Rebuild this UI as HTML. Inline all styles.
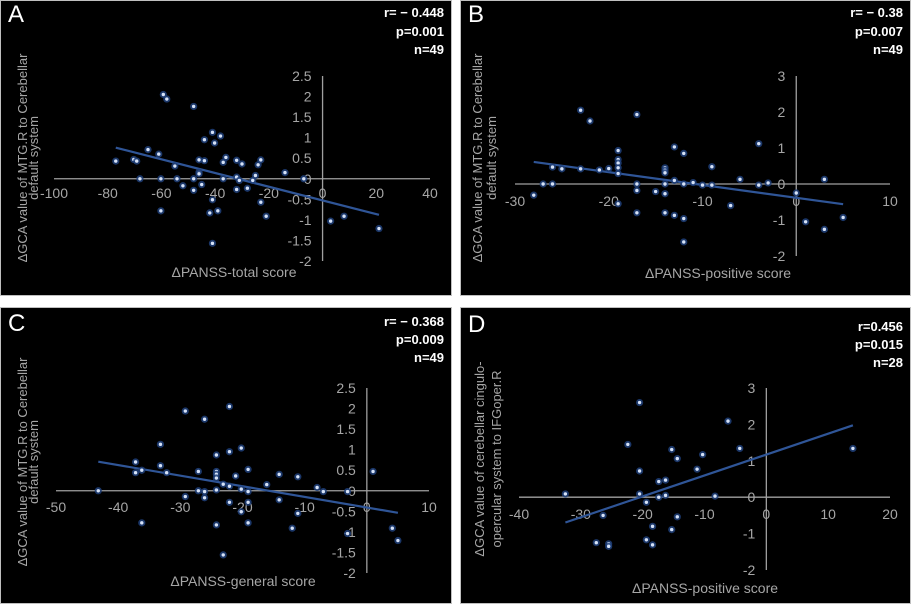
<!DOCTYPE html>
<html><head><meta charset="utf-8">
<style>
html,body{margin:0;padding:0;background:#fff;}
svg{display:block;font-family:"Liberation Sans",sans-serif;}
.tick{fill:#a6a6a6;font-size:14px;}
.ttl{fill:#a6a6a6;font-size:14px;}
.yttl{fill:#a6a6a6;font-size:13px;}
.stat{fill:#fff;font-size:13px;font-weight:bold;}
.let{fill:#fff;font-size:24px;}
</style></head>
<body>
<svg id="fig" width="911" height="604" viewBox="0 0 911 604"></svg>
<script>
// Panel A data: ΔPANSS-total vs ΔGCA
const aX = [-77,-59.3,-58,-48,-65,-61,-70.3,-69.2,-68,-60.2,-60.2,-55,-54.2,-52,-48,-48,-46,-46,-46,-45,-44,-44,-41,-40.2,-38,-41,-42,-39,-41,-36,-37,-37,-32,-30,-32,-31,-32,-28,-26,-25,-24,-23,-23,-21,-14,-7,3,8,21];
const aY = [0.43,2.05,1.94,1.76,0.71,0.6,0.47,0.43,0,0,-0.78,0.31,0,-0.17,0,-0.28,0.46,0.16,0.12,-0.14,0.95,0.44,1.13,0.87,1.04,-0.51,-0.83,-0.78,-1.57,0.52,0.4,0,0.45,0.36,0.04,-0.04,-0.26,-0.23,-0.04,0.08,0.34,0.46,-0.57,-0.91,0.15,0,-1.03,-0.91,-1.21];
// Panel B data: ΔPANSS-positive vs ΔGCA
const bX = [-28,-27,-26,-26,-25,-23,-23,-22,-21,-20,-19,-19,-19,-19,-19,-19,-17,-17,-17,-17,-15,-14,-14,-14,-14,-14,-14,-13,-13,-13,-12,-12,-12,-12,-11,-10,-9,-9,-7,-6,-4,-4,-3,0,1,3,3,5];
const bY = [-0.31,0,0,0.47,0.42,2.05,0.42,1.75,0.39,0.43,0.93,0.68,0.58,0.45,0.29,-0.55,1.93,0,-0.18,-0.8,-0.21,0.45,0.38,0.31,0,-0.27,-0.8,1.03,0.1,-0.87,0.85,0,-0.96,-1.61,0.04,-0.03,0.48,-0.03,-0.6,0.13,1.12,-0.03,0.03,-0.25,-1.05,0.13,-1.26,-0.93];
// Panel C data: ΔPANSS-general vs ΔGCA
const cX = [-43.2,-37.2,-37.2,-36.2,-36.2,-33.2,-33.2,-32.2,-29.2,-29.2,-27.1,-27.1,-26.1,-26.1,-26.1,-24.2,-24.2,-24.2,-24.2,-24.2,-24.2,-23.1,-23.1,-22.1,-22.1,-22.1,-22.1,-21.1,-20.2,-20.2,-20.2,-19.1,-19.1,-19.1,-19.1,-16.1,-14.1,-14.1,-12,-11.1,-11.1,-8,-7,-3.1,-3.1,1,4.1,5];
const cY = [0,0.7,0.44,0.5,-0.78,1.13,0.61,0.44,1.94,-0.14,0.47,0,1.74,-0.02,-0.17,0.87,0.47,0.4,0.31,0.02,-0.83,0.16,-1.56,2.05,0.95,0.11,-0.28,0.36,1.04,0.04,-0.51,0.52,-0.02,-0.28,-0.78,0.15,0.4,-0.22,-0.91,0.34,-0.55,0.08,-0.02,-0.02,-1.04,0.47,-0.91,-1.21];
// Panel D data: ΔPANSS-positive vs ΔGCA (cingulo-opercular)
const dX = [-32.5,-27.5,-26.4,-25.5,-25.5,-22.4,-20.5,-20.5,-20.5,-19.4,-19.4,-18.4,-18.4,-17.4,-17.4,-16.3,-16.3,-15.3,-15.3,-14.4,-14.4,-11.2,-10.3,-8.3,-6.2,-4.3,14];
const dY = [0.09,-1.25,-0.5,-1.28,-1.35,1.45,2.6,0.72,0.09,-0.14,-1.17,-0.8,-1.31,0.43,0,0.47,0.05,1.31,-0.89,1.06,-0.54,0.77,1.17,0.03,2.09,1.34,1.34];
// tick labels
const xTicksA = [-100,-80,-60,-40,-20,0,20,40];
const yTicksA = [2.5,2,1.5,1,0.5,0,-0.5,-1,-1.5,-2];
const xTicksB = [-30,-20,-10,0,10];
const yTicksB = [3,2,1,0,-1,-2];
const xTicksC = [-50,-40,-30,-20,-10,0,10];
const yTicksC = [2.5,2,1.5,1,0.5,0,-0.5,-1,-1.5,-2];
const xTicksD = [-40,-30,-20,-10,0,10,20];
const yTicksD = [3,2,1,0,-1,-2];
const statsA = ["r= − 0.448","p=0.001","n=49"];
const statsB = ["r= − 0.38","p=0.007","n=49"];
const statsC = ["r= − 0.368","p=0.009","n=49"];
const statsD = ["r=0.456","p=0.015","n=28"];

const NS="http://www.w3.org/2000/svg";
const fig=document.getElementById('fig');
function mk(tag,attrs,parent){const e=document.createElementNS(NS,tag);for(const k in attrs)e.setAttribute(k,attrs[k]);parent.appendChild(e);return e;}

const panels=[
 {id:'a',letter:'A',ox:0,oy:0,w:452,h:296,xs:aX,ys:aY,xt:xTicksA,yt:yTicksA,st:statsA,
  x0:-100,x1:40,px0:54,px1:430,y0:-2,y1:2.5,py0:261,py1:76,xly:198,stY:[17,36,54],
  xtitle:'ΔPANSS-total score',xtx:234,xty:277,yl:['ΔGCA value of MTG.R to Cerebellar','default system'],ylx:[27,38],yly:158,ltY:22},
 {id:'b',letter:'B',ox:460,oy:0,w:451,h:296,xs:bX,ys:bY,xt:xTicksB,yt:yTicksB,st:statsB,
  x0:-30,x1:10,px0:55,px1:430,y0:-2,y1:3,py0:256,py1:76,xly:206,stY:[17,36,54],
  xtitle:'ΔPANSS-positive score',xtx:258,xty:278,yl:['ΔGCA value of MTG.R to Cerebellar','default system'],ylx:[22,36],yly:158,ltY:22},
 {id:'c',letter:'C',ox:0,oy:307,w:452,h:297,xs:cX,ys:cY,xt:xTicksC,yt:yTicksC,st:statsC,
  x0:-50,x1:10,px0:56,px1:429,y0:-2,y1:2.5,py0:266,py1:81,xly:205,stY:[19,37,55],
  xtitle:'ΔPANSS-general score',xtx:243,xty:279,yl:['ΔGCA value of MTG.R to Cerebellar','default system'],ylx:[27,38],yly:155,ltY:24},
 {id:'d',letter:'D',ox:460,oy:307,w:451,h:297,xs:dX,ys:dY,xt:xTicksD,yt:yTicksD,st:statsD,
  x0:-40,x1:20,px0:59,px1:430,y0:-2,y1:3,py0:263,py1:81,xly:212,stY:[24,42,60],
  xtitle:'ΔPANSS-positive score',xtx:245,xty:286,yl:['ΔGCA value of cerebellar cingulo-','opercular system  to IFGoper.R'],ylx:[24,41],yly:152,ltY:25}
];

panels.forEach(p=>{
  const g=mk('g',{transform:`translate(${p.ox},${p.oy})`},fig);
  
  
  const bg=mk('rect',{x:0.5,y:0.5,width:p.w-1,height:p.h-1,fill:'#000',stroke:'#bfbfbf','stroke-width':1},g);
  
  
  const sx=v=>p.px0+(v-p.x0)/(p.x1-p.x0)*(p.px1-p.px0);
  const sy=v=>p.py0+(v-p.y0)/(p.y1-p.y0)*(p.py1-p.py0);
  const xa=mk('line',{x1:p.px0,x2:p.px1,y1:sy(0),y2:sy(0),stroke:'#a0a0a0','stroke-width':1.3},g);
  
  
  const ya=mk('line',{x1:sx(0),x2:sx(0),y1:p.py1,y2:p.py0,stroke:'#a0a0a0','stroke-width':1.3},g);
  
  
  p.xt.forEach(v=>{
    const t=mk('text',{x:sx(v),y:p.xly,'text-anchor':'middle',class:'tick'},g);
    t.textContent=v;
    
    
  });
  p.yt.forEach(v=>{
    const t=mk('text',{x:sx(0)-11,y:sy(v)+5,'text-anchor':'end',class:'tick'},g);
    t.textContent=v;
    
    
  });
  const n=p.xs.length;let mx=0,my=0;
  for(let i=0;i<n;i++){mx+=p.xs[i];my+=p.ys[i];}mx/=n;my/=n;
  let sxy=0,sxx=0;for(let i=0;i<n;i++){sxy+=(p.xs[i]-mx)*(p.ys[i]-my);sxx+=(p.xs[i]-mx)**2;}
  const b=sxy/sxx,a=my-b*mx;
  const xmin=Math.min(...p.xs),xmax=Math.max(...p.xs);
  const tl=mk('line',{x1:sx(xmin),y1:sy(a+b*xmin),x2:sx(xmax),y2:sy(a+b*xmax),stroke:'#2f5597','stroke-width':2.2},g);
  
  
  for(let i=0;i<n;i++){
    const cx=sx(p.xs[i]),cy=sy(p.ys[i]);
    const o=mk('circle',{cx,cy,r:3.6,fill:'#1f3f7a','fill-opacity':0.85},g);
    
    
    const c=mk('circle',{cx,cy,r:1.7,fill:'#d6e2f7'},g);
    
    
  }
  const L=mk('text',{x:8,y:p.ltY,class:'let'},g);L.textContent=p.letter;
  
  
  p.st.forEach((s,i)=>{
    const t=mk('text',{x:p.w-8,y:p.stY[i],'text-anchor':'end',class:'stat'},g);t.textContent=s;
    
    
  });
  const xt=mk('text',{x:p.xtx,y:p.xty,'text-anchor':'middle',class:'ttl'},g);xt.textContent=p.xtitle;
  
  
  p.yl.forEach((s,i)=>{
    const t=mk('text',{x:0,y:0,'text-anchor':'middle',class:'yttl',transform:`translate(${p.ylx[i]} ${p.yly}) rotate(-90)`},g);
    t.textContent=s;
    
    
  });
});
</script>
</body></html>
